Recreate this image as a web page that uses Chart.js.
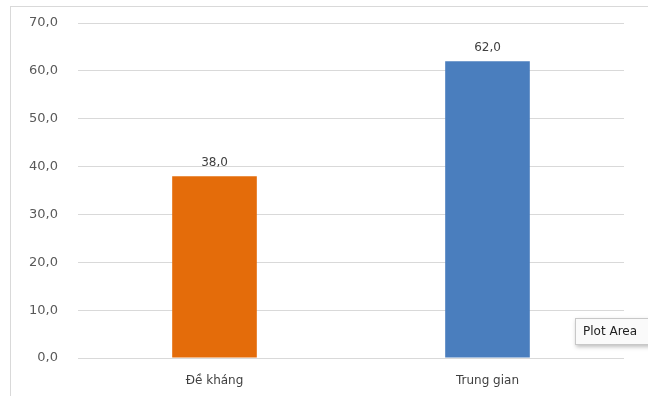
<!DOCTYPE html>
<html>
<head>
<meta charset="utf-8">
<script src="https://cdn.jsdelivr.net/npm/chart.js@4.4.1/dist/chart.umd.min.js"></script>
<style>
  body { margin: 0; background: #fff; }
  #wrap { position: relative; width: 648px; height: 396px; overflow: hidden; }
  #frame { position: absolute; left: 10px; top: 6px; width: 650px; height: 400px; border: 1px solid #d9d9d9; box-sizing: border-box; }
  #tip { position: absolute; left: 575px; top: 318px; width: 90px; height: 27px; background: #fafafa; border: 1px solid #c8c8c8;
         box-shadow: 1px 2px 4px rgba(0,0,0,0.25); font: 12px "DejaVu Sans", sans-serif; color: #222;
         line-height: 25px; padding-left: 7px; box-sizing: border-box; white-space: nowrap; overflow: hidden; }
</style>
</head>
<body>
<div id="wrap">
  <div id="frame"></div>
  <canvas id="myChart" width="648" height="396"></canvas>
  <div id="tip">Plot Area</div>
</div>
<script>
const categories = ['Đề kháng', 'Trung gian'];
const values = [38.0, 62.0];
const barColors = ['#E46C0A', '#4A7EBE'];
const yTicks = [0, 10, 20, 30, 40, 50, 60, 70];

function fmt(v) {
  return Number(v).toFixed(1).replace('.', ',');
}

const valueLabels = {
  id: 'valueLabels',
  afterDatasetsDraw(chart) {
    const ctx = chart.ctx;
    const meta = chart.getDatasetMeta(0);
    ctx.save();
    ctx.font = '12px "DejaVu Sans", sans-serif';
    ctx.fillStyle = '#404040';
    ctx.textAlign = 'center';
    ctx.textBaseline = 'bottom';
    meta.data.forEach(function (bar, i) {
      ctx.fillText(fmt(values[i]), bar.x, bar.y - 7);
    });
    ctx.restore();
  }
};

function myLoadFunction() {
  const ctx = document.getElementById('myChart').getContext('2d');
  var myChartConfig = {
    type: 'bar',
    data: {
      labels: categories,
      datasets: [{
        data: values,
        backgroundColor: barColors,
        borderWidth: 0,
        barPercentage: 0.31,
        categoryPercentage: 1.0
      }]
    },
    options: {
      responsive: false,
      animation: false,
      layout: { padding: { left: 10, right: 24, top: 23, bottom: 6 } },
      plugins: { legend: { display: false }, tooltip: { enabled: false } },
      scales: {
        x: {
          grid: { display: false },
          border: { display: false },
          ticks: { color: '#404040', font: { family: '"DejaVu Sans", sans-serif', size: 12 }, padding: 8 },
          afterFit: function (s) { s.height = 32; s.paddingLeft = 0; s.paddingRight = 0; }
        },
        y: {
          min: 0,
          max: 70,
          afterBuildTicks: function (s) { s.ticks = yTicks.map(function (v) { return { value: v }; }); },
          grid: { color: '#d9d9d9', drawTicks: false },
          border: { display: false },
          ticks: {
            color: '#595959',
            padding: 20,
            font: { family: '"DejaVu Sans", sans-serif', size: 13 },
            callback: function (v) { return fmt(v); }
          },
          afterFit: function (s) { s.width = 68; s.paddingTop = 0; s.paddingBottom = 0; }
        }
      }
    },
    plugins: [valueLabels]
  };
  const myChart = new Chart(ctx, myChartConfig);
}

document.addEventListener('DOMContentLoaded', myLoadFunction);
</script>
</body>
</html>
